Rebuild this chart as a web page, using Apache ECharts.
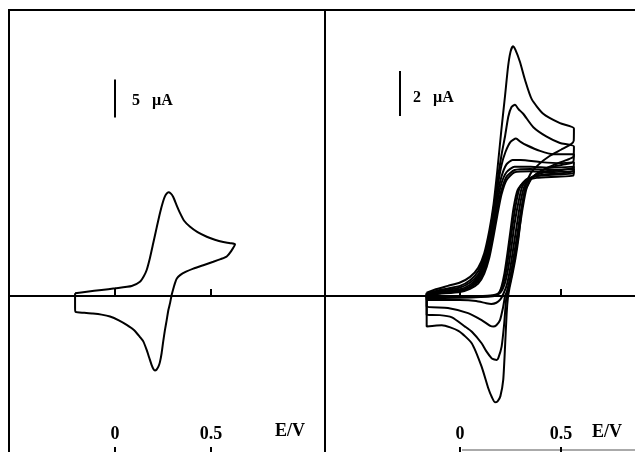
<!DOCTYPE html>
<html>
<head>
<meta charset="utf-8">
<script src="https://cdn.jsdelivr.net/npm/echarts@6/dist/echarts.min.js"></script>
<style>
html,body{margin:0;padding:0;background:#fff;}
#c{width:635px;height:452px;}
</style>
</head>
<body>
<div id="c"></div>
<script>
// ---------- DATA ----------
// E/V tick values
const eTicks = [0, 0.5];
const eTickLabels = ['0', '0.5'];
const axisTitle = 'E/V';

// Left panel: single CV, [E (V), I (uA)]
const cvLeft = [
  [-0.208,0.36],[-0.147,0.57],[-0.07,0.8],[0,1.01],[0.087,1.32],[0.13,1.88],[0.15,2.6],[0.165,3.42],
  [0.182,5.0],[0.199,6.93],[0.217,9.0],[0.234,10.9],[0.25,12.4],[0.26,13.1],[0.27,13.5],[0.278,13.65],
  [0.29,13.5],[0.304,13.0],[0.32,12.0],[0.339,10.9],[0.36,9.9],[0.391,9.1],[0.43,8.4],[0.478,7.8],
  [0.52,7.4],[0.564,7.1],[0.6,6.95],[0.625,6.8],
  [0.605,5.9],[0.582,5.2],[0.55,4.85],[0.512,4.5],[0.46,4.05],[0.408,3.6],[0.37,3.2],[0.339,2.75],
  [0.322,2.3],[0.312,1.67],[0.303,0.9],[0.295,0.13],[0.287,-0.9],[0.278,-1.84],[0.269,-3.2],[0.26,-4.5],
  [0.251,-6.0],[0.243,-7.5],[0.234,-8.7],[0.226,-9.3],[0.216,-9.7],[0.208,-9.8],[0.2,-9.6],[0.191,-9.1],
  [0.178,-8.1],[0.165,-7.1],[0.148,-6.0],[0.13,-5.4],[0.1,-4.5],[0.061,-3.8],[0.02,-3.2],[-0.026,-2.7],
  [-0.07,-2.45],[-0.115,-2.3],[-0.16,-2.2],[-0.205,-2.1],[-0.208,-1.5],[-0.208,0.36]
];

// Right panel: family of CVs, [E (V), I (uA)]
const cvR1 = [
  [-0.165,0.15],[-0.12,0.3],[-0.06,0.45],[0,0.6],[0.05,0.85],[0.09,1.25],[0.12,1.9],[0.145,2.9],
  [0.165,4.0],[0.185,5.6],[0.205,7.4],[0.223,8.9],[0.238,10.2],[0.25,10.85],[0.262,11.1],[0.274,10.95],
  [0.297,10.4],[0.322,9.6],[0.355,8.75],[0.412,8.1],[0.495,7.68],[0.564,7.45],
  [0.563,6.9],[0.55,6.75],[0.5,6.5],[0.44,6.2],[0.39,5.85],[0.35,5.45],[0.325,4.9],[0.305,3.8],
  [0.29,2.6],[0.275,1.7],[0.258,0.9],[0.245,0.35],[0.237,-0.1],[0.231,-0.77],[0.223,-2.25],[0.214,-3.73],
  [0.2,-4.45],[0.186,-4.68],[0.173,-4.72],[0.158,-4.5],[0.14,-4.1],[0.107,-3.14],[0.058,-2.1],
  [-0.008,-1.55],[-0.09,-1.3],[-0.165,-1.36],[-0.165,0.15]
];
const cvR2 = [
  [-0.165,0.12],[-0.1,0.27],[0,0.45],[0.05,0.7],[0.09,1.1],[0.12,1.75],[0.145,2.7],[0.165,3.8],
  [0.185,5.1],[0.206,6.3],[0.223,7.1],[0.239,7.97],[0.255,8.4],[0.272,8.5],[0.29,8.3],[0.313,8.1],
  [0.363,7.5],[0.429,7.08],[0.495,6.8],[0.564,6.64],
  [0.562,6.2],[0.53,6.05],[0.47,5.85],[0.41,5.6],[0.36,5.3],[0.33,4.8],[0.31,3.9],[0.293,2.9],
  [0.275,1.9],[0.255,0.9],[0.24,0.3],[0.229,-0.1],[0.219,-1.21],[0.206,-2.25],[0.19,-2.75],[0.182,-2.84],
  [0.17,-2.82],[0.157,-2.77],[0.13,-2.45],[0.107,-2.1],[0.06,-1.6],[0.025,-1.36],[-0.04,-0.95],
  [-0.1,-0.85],[-0.165,-0.84],[-0.165,0.12]
];
const cvR3 = [
  [-0.165,0.1],[-0.1,0.22],[0,0.38],[0.05,0.6],[0.09,0.95],[0.12,1.6],[0.145,2.5],[0.165,3.6],
  [0.185,4.8],[0.205,5.8],[0.225,6.4],[0.25,6.85],[0.277,7.0],[0.3,6.85],[0.33,6.7],[0.396,6.45],
  [0.46,6.3],[0.564,6.3],
  [0.56,5.95],[0.52,5.85],[0.46,5.75],[0.4,5.55],[0.35,5.2],[0.32,4.6],[0.3,3.7],[0.283,2.7],
  [0.265,1.7],[0.248,0.8],[0.232,0.2],[0.223,0],[0.214,-0.47],[0.198,-1.07],[0.18,-1.3],[0.165,-1.36],
  [0.15,-1.33],[0.107,-1.07],[0.04,-0.76],[-0.06,-0.53],[-0.165,-0.47],[-0.165,0.1]
];
const cvR4 = [
  [-0.165,0.08],[-0.1,0.18],[0,0.3],[0.05,0.5],[0.09,0.85],[0.12,1.45],[0.145,2.3],[0.165,3.4],
  [0.185,4.5],[0.205,5.3],[0.23,5.85],[0.26,6.05],[0.3,6.05],[0.4,5.95],[0.5,5.9],[0.564,5.95],
  [0.56,5.7],[0.5,5.6],[0.42,5.5],[0.36,5.3],[0.32,4.9],[0.3,4.2],[0.282,3.2],[0.265,2.2],
  [0.248,1.2],[0.232,0.5],[0.215,0.1],[0.2,-0.15],[0.18,-0.3],[0.155,-0.35],[0.13,-0.32],[0.08,-0.22],
  [0,-0.18],[-0.165,-0.18],[-0.165,0.08]
];
const cvR5 = [
  [-0.165,0.06],[-0.1,0.14],[0,0.25],[0.05,0.42],[0.09,0.75],[0.12,1.3],[0.145,2.1],[0.165,3.1],
  [0.185,4.2],[0.205,5.0],[0.23,5.5],[0.27,5.75],[0.35,5.75],[0.45,5.7],[0.564,5.75],
  [0.56,5.55],[0.5,5.45],[0.42,5.4],[0.35,5.25],[0.31,4.9],[0.29,4.2],[0.27,3.2],[0.255,2.2],
  [0.238,1.2],[0.22,0.5],[0.2,0.15],[0.17,0.0],[0.1,-0.05],[0,-0.08],[-0.165,-0.1],[-0.165,0.06]
];
const cvR6 = [
  [-0.165,0.05],[-0.1,0.12],[0,0.22],[0.05,0.38],[0.09,0.65],[0.12,1.15],[0.145,1.9],[0.165,2.9],
  [0.185,3.9],[0.205,4.7],[0.23,5.3],[0.27,5.6],[0.35,5.65],[0.45,5.6],[0.564,5.65],
  [0.56,5.45],[0.48,5.4],[0.4,5.35],[0.33,5.2],[0.295,4.8],[0.275,4.0],[0.258,3.0],[0.243,2.0],
  [0.228,1.1],[0.21,0.45],[0.19,0.12],[0.15,0.02],[0.05,-0.02],[-0.165,-0.05],[-0.165,0.05]
];
const cvR7 = [
  [-0.165,0.04],[-0.1,0.1],[0,0.18],[0.05,0.32],[0.09,0.55],[0.12,1.0],[0.145,1.7],[0.165,2.6],
  [0.185,3.6],[0.205,4.5],[0.23,5.15],[0.27,5.5],[0.35,5.55],[0.45,5.5],[0.564,5.55],
  [0.56,5.35],[0.48,5.3],[0.38,5.25],[0.32,5.1],[0.285,4.7],[0.265,3.9],[0.25,2.9],[0.235,1.9],
  [0.22,1.0],[0.205,0.4],[0.19,0.1],[0.15,0.0],[0.05,-0.02],[-0.165,-0.04],[-0.165,0.04]
];
const cvRight = [cvR1, cvR2, cvR3, cvR4, cvR5, cvR6, cvR7];

// Current scale bars: [E, I] endpoints, and their labels
const scaleBarLeft = [[0, 23.5], [0, 28.5]];
const scaleBarRight = [[-0.297, 8.0], [-0.297, 10.0]];
const scaleLeftNum = '5', scaleRightNum = '2', scaleUnit = '\u00B5A';

// ---------- CHART ----------
const FONT = '"Liberation Serif", "DejaVu Serif", serif';
const chart = echarts.init(document.getElementById('c'), null, {renderer: 'canvas'});

function zeroAxis(gi, min, max) {
  return {
    gridIndex: gi, type: 'value', min: min, max: max, position: 'top',
    axisLine: {show: true, onZero: true, lineStyle: {color: '#000', width: 2}},
    axisTick: {show: true, inside: false, length: 7, customValues: eTicks, lineStyle: {color: '#000', width: 2}},
    axisLabel: {show: false}, splitLine: {show: false}
  };
}
function bottomAxis(gi, min, max) {
  return {
    gridIndex: gi, type: 'value', min: min, max: max, position: 'bottom',
    axisLine: {show: false, onZero: false},
    axisTick: {show: true, inside: true, length: 13, customValues: eTicks, lineStyle: {color: '#000', width: 2}},
    axisLabel: {show: true, inside: true, margin: 17, customValues: eTicks,
      formatter: v => { const i = eTicks.indexOf(v); return i >= 0 ? eTickLabels[i] : String(v); },
      fontFamily: FONT, fontWeight: 'bold', fontSize: 18, color: '#000'},
    splitLine: {show: false}
  };
}

// pixel geometry of panels
const PL = {x0: 9, x1: 325, zeroX: 115, pxPerV: 192, zeroY: 296, pxPerUA: 7.6};
const PR = {x0: 325, x1: 646, zeroX: 460, pxPerV: 202, zeroY: 296, pxPerUA: 22.5};
const gTop = 10, gBottom = 460;

const lXmin = (PL.x0 - PL.zeroX) / PL.pxPerV, lXmax = (PL.x1 - PL.zeroX) / PL.pxPerV;
const rXmin = (PR.x0 - PR.zeroX) / PR.pxPerV, rXmax = (PR.x1 - PR.zeroX) / PR.pxPerV;
const lYmax = (PL.zeroY - gTop) / PL.pxPerUA, lYmin = (PL.zeroY - gBottom) / PL.pxPerUA;
const rYmax = (PR.zeroY - gTop) / PR.pxPerUA, rYmin = (PR.zeroY - gBottom) / PR.pxPerUA;

const lineStyle = {color: '#000', width: 2};
const series = [];
series.push({type: 'line', xAxisIndex: 0, yAxisIndex: 0, data: cvLeft, showSymbol: false, smooth: 0.2, lineStyle, silent: true});
series.push({type: 'line', xAxisIndex: 0, yAxisIndex: 0, data: scaleBarLeft, showSymbol: false, lineStyle, silent: true});
cvRight.forEach(d => series.push({type: 'line', xAxisIndex: 2, yAxisIndex: 1, data: d, showSymbol: false, smooth: 0.2, lineStyle, silent: true}));
series.push({type: 'line', xAxisIndex: 2, yAxisIndex: 1, data: scaleBarRight, showSymbol: false, lineStyle, silent: true});

const txt = (text, x, y, size, align) => ({
  type: 'text', x: x, y: y, silent: true,
  style: {text: text, fill: '#000', font: 'bold ' + size + 'px ' + FONT, textAlign: align || 'left', textVerticalAlign: 'middle'}
});

chart.setOption({
  animation: false,
  backgroundColor: '#fff',
  grid: [
    {left: PL.x0, top: gTop, width: PL.x1 - PL.x0, height: gBottom - gTop, show: true, borderColor: '#000', borderWidth: 2, containLabel: false, outerBoundsMode: 'none'},
    {left: PR.x0, top: gTop, width: PR.x1 - PR.x0, height: gBottom - gTop, show: true, borderColor: '#000', borderWidth: 2, containLabel: false, outerBoundsMode: 'none'}
  ],
  xAxis: [zeroAxis(0, lXmin, lXmax), bottomAxis(0, lXmin, lXmax), zeroAxis(1, rXmin, rXmax), bottomAxis(1, rXmin, rXmax)],
  yAxis: [
    {gridIndex: 0, type: 'value', min: lYmin, max: lYmax, show: false},
    {gridIndex: 1, type: 'value', min: rYmin, max: rYmax, show: false}
  ],
  series: series,
  graphic: [
    txt(scaleLeftNum, 132, 101, 16), txt(scaleUnit, 152, 101, 16),
    txt(scaleRightNum, 413, 98, 16), txt(scaleUnit, 433, 98, 16),
    txt(axisTitle, 290, 431, 18, 'center'), txt(axisTitle, 607, 432, 18, 'center'),
    {type: 'line', silent: true, shape: {x1: 462, y1: 450, x2: 635, y2: 450}, style: {stroke: '#aaa', lineWidth: 2}}
  ]
});
</script>
</body>
</html>
